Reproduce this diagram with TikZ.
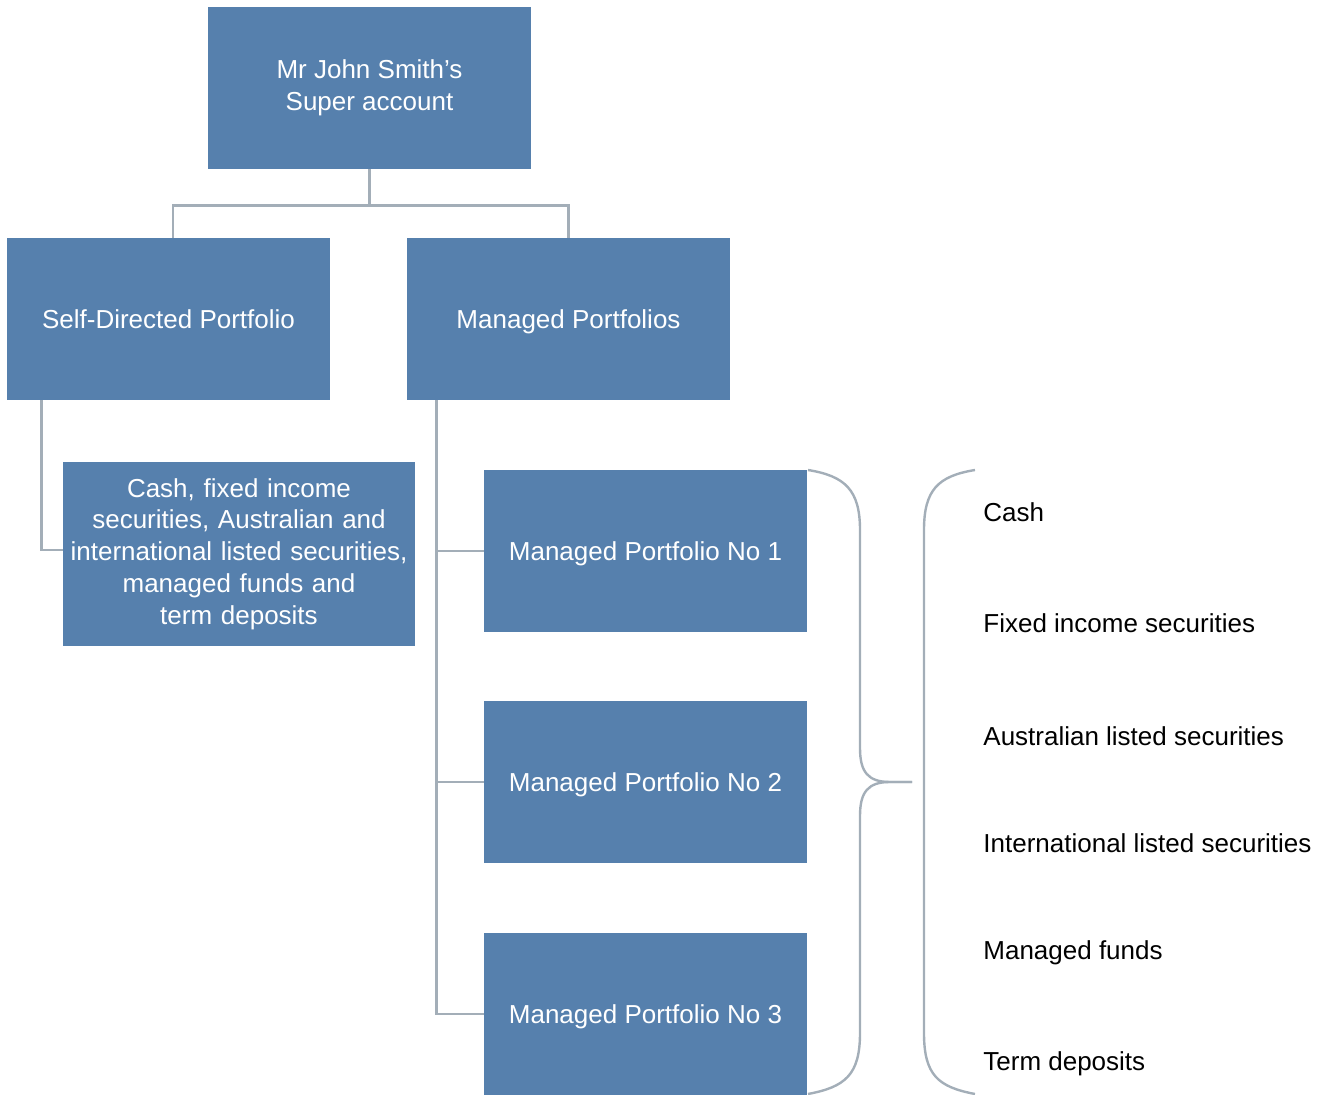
\documentclass[tikz,border=0pt]{standalone}
\usepackage{fontspec}
\setmainfont{Liberation Sans}
\usetikzlibrary{positioning,calc}
\definecolor{boxblue}{HTML}{5680AD}
\definecolor{linegrey}{HTML}{A3AEB8}

\begin{document}
\begin{tikzpicture}
[x=0.5pt,y=-0.5pt,font=\fontsize{13}{15.9}\selectfont,
box/.style = {fill=boxblue, text=white, inner sep=0pt, minimum width=161.5pt, minimum height=81pt, align=center},
oneline/.style = {text height=0.92em, text depth=0pt},
link/.style = {draw=linegrey, line width=1.2pt},
item/.style = {anchor=base west, inner sep=0pt},]
\useasboundingbox (0,0) rectangle (1329,1095);
\node (super) at (369.5,88)[box] {Mr John Smith’s\\Super account};
\node (self) at (168.5,319)[box,oneline] {Self-Directed Portfolio};
\node (managed) at (568.5,319)[box,oneline] {Managed Portfolios};
\node (cash) at (239,554)[box,minimum width=176pt,minimum height=92pt,text width=172pt] {Cash, fixed income\\securities, Australian and\\international listed securities,\\managed funds and\\term deposits};
\node (mpone) at (645.5,551)[box,oneline] {Managed Portfolio No 1};
\node (mptwo) at (645.5,782)[box,oneline] {Managed Portfolio No 2};
\node (mpthree) at (645.5,1014)[box,oneline] {Managed Portfolio No 3};
\node (icash) at (983,521.5)[item] {Cash};
\node (ifixed) at (983,632.5)[item] {Fixed income securities};
\node (iaus) at (983,745.5)[item] {Australian listed securities};
\node (iint) at (983,852.5)[item] {International listed securities};
\node (ifunds) at (983,959.5)[item] {Managed funds};
\node (iterm) at (983,1070.5)[item] {Term deposits};
\coordinate (selfleg) at ($(self.south west)+(35,0)$);
\coordinate (trunk) at ($(managed.south west)+(30,0)$);
\draw[link] (super.south) -- ++(0,36) -| ([xshift=2.25pt]self.north);
\draw[link] (super.south) -- ++(0,36) -| (managed.north);
\draw[link] (selfleg) |- ([yshift=2pt]cash.west);
\draw[link] (trunk) |- (mpthree.west);
\draw[link] (mpone.west) -- (mpone.west -| trunk);
\draw[link] (mptwo.west) -- (mptwo.west -| trunk);
\draw[link] (808,470) .. controls (845,476) and (860,490) .. (860,530) -- (860,748)
  .. controls (860,772) and (868,782) .. (890,782) -- (912,782);
\draw[link] (912,782) -- (890,782) .. controls (868,782) and (860,792) .. (860,816)
  -- (860,1033) .. controls (860,1075) and (845,1087) .. (808,1094);
\draw[link] (975,470) .. controls (938,476) and (924,490) .. (924,530) -- (924,1033)
  .. controls (924,1075) and (938,1087) .. (975,1094);
\end{tikzpicture}
\end{document}
